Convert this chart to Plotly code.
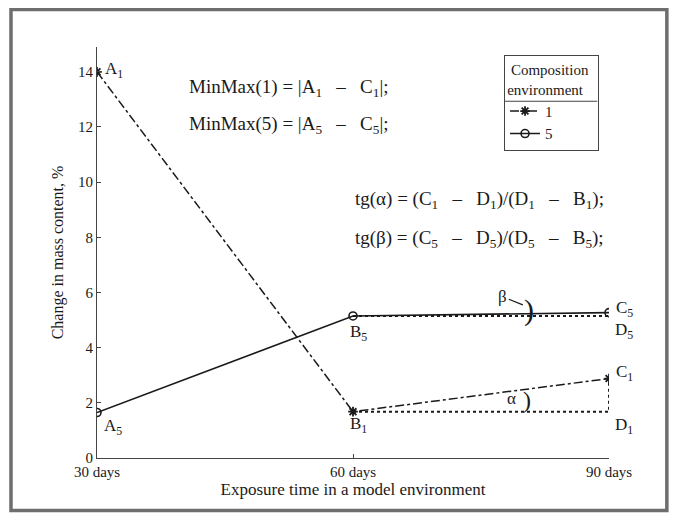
import plotly.graph_objects as go

# ---------------- data
days = [30, 60, 90]
day_labels = ["30 days", "60 days", "90 days"]
env1 = [14.0, 1.68, 2.88]     # composition environment 1
env5 = [1.65, 5.15, 5.27]     # composition environment 5
y_ticks = [0, 2, 4, 6, 8, 10, 12, 14]

# auxiliary construction points
d1_x = [60, 90, 90]
d1_y = [env1[1], env1[1], env1[2]]
d5_x = [60, 90]
d5_y = [env5[1], env5[1]]

font = "Liberation Serif"
ink = "#1a1a1a"

fig = go.Figure()

fig.add_trace(go.Scatter(x=d1_x, y=d1_y, mode="lines",
                         line=dict(color=ink, width=2, dash="dot"),
                         showlegend=False, hoverinfo="skip"))
fig.add_trace(go.Scatter(x=d5_x, y=d5_y, mode="lines",
                         line=dict(color=ink, width=2, dash="dot"),
                         showlegend=False, hoverinfo="skip"))

fig.add_trace(go.Scatter(
    x=days, y=env1, name="1", mode="lines+markers",
    line=dict(color=ink, width=1.5, dash="dashdot"),
    marker=dict(symbol="asterisk-open", size=8, color=ink, line=dict(width=1.8, color=ink))
))
fig.add_trace(go.Scatter(
    x=days, y=env5, name="5", mode="lines+markers",
    line=dict(color=ink, width=1.6),
    marker=dict(symbol="circle-open", size=8, color=ink, line=dict(width=1.6, color=ink))
))

# ---------------- point labels
lab = dict(showarrow=False, font=dict(family=font, size=17, color=ink))
points = [
    (days[0], env1[0], "A<sub>1</sub>", "left", "middle", 6, 2),
    (days[0], env5[0], "A<sub>5</sub>", "left", "top", 5, -2),
    (days[1], env5[1], "B<sub>5</sub>", "left", "top", -5, -4),
    (days[1], env1[1], "B<sub>1</sub>", "left", "top", -5, 0),
    (days[2], env5[2], "C<sub>5</sub>", "left", "middle", 5, 4),
    (days[2], env5[1], "D<sub>5</sub>", "left", "top", 4, -2),
    (days[2], env1[2], "C<sub>1</sub>", "left", "middle", 5, 6),
    (days[2], env1[1], "D<sub>1</sub>", "left", "top", 4, -1),
]
for px, py, txt, xa, ya, xs, ys in points:
    fig.add_annotation(x=px, y=py, text=txt, xanchor=xa, yanchor=ya,
                       xshift=xs, yshift=ys, **lab)

# angles
fig.add_annotation(x=78.6, y=2.15, text="α", **lab)
fig.add_annotation(x=80.4, y=2.1, text=")", showarrow=False,
                   font=dict(family=font, size=24, color=ink))
fig.add_annotation(x=79.9, y=5.55, text="β", ax=-20, ay=-8,
                   showarrow=True, arrowhead=0, arrowwidth=1.2, arrowcolor=ink,
                   font=dict(family=font, size=17, color=ink))
fig.add_annotation(x=80.6, y=5.35, text=")", showarrow=False,
                   font=dict(family=font, size=30, color=ink))

# formulas
formulas = [
    (40.5, 13.42, "MinMax(1) = |A<sub>1</sub>   –   C<sub>1</sub>|;"),
    (40.5, 12.08, "MinMax(5) = |A<sub>5</sub>   –   C<sub>5</sub>|;"),
    (60.0, 9.35, "tg(α) = (C<sub>1</sub>   –   D<sub>1</sub>)/(D<sub>1</sub>   –   B<sub>1</sub>);"),
    (60.0, 7.95, "tg(β) = (C<sub>5</sub>   –   D<sub>5</sub>)/(D<sub>5</sub>   –   B<sub>5</sub>);"),
]
for fx, fy, txt in formulas:
    fig.add_annotation(x=fx, y=fy, text=txt, xanchor="left", yanchor="middle",
                       showarrow=False, font=dict(family=font, size=19, color=ink))

# outer frame and legend title separator
fig.add_shape(type="rect", xref="paper", yref="paper",
              x0=-0.168, x1=1.113, y0=-0.128, y1=1.091,
              line=dict(color="#6e6e6e", width=3.5))
fig.add_shape(type="line", xref="paper", yref="paper",
              x0=0.795, x1=0.977, y0=0.868, y1=0.868,
              line=dict(color="#444", width=1))

axis = dict(showline=True, linecolor="#444", linewidth=1.2, ticks="inside",
            ticklen=4, tickcolor="#444", showgrid=False, zeroline=False,
            tickfont=dict(family=font, size=15, color=ink))

# page body has an 8px margin, so the figure is shrunk by that much
fig.update_layout(
    width=662, height=505,
    margin=dict(l=89, r=61, t=39, b=55),
    paper_bgcolor="white", plot_bgcolor="white",
    font=dict(family=font, color=ink),
    xaxis=dict(axis, range=[30, 90], tickvals=days, ticktext=day_labels,
               title=dict(text="Exposure time in a model environment",
                          font=dict(family=font, size=17, color=ink), standoff=4)),
    yaxis=dict(axis, range=[0, 14.9], tickvals=y_ticks,
               title=dict(text="Change in mass content, %",
                          font=dict(family=font, size=16, color=ink), standoff=10)),
    legend=dict(x=0.795, y=0.981, xanchor="left", yanchor="top",
                bgcolor="rgba(0,0,0,0)", bordercolor="#444", borderwidth=1,
                font=dict(family=font, size=15, color=ink),
                title=dict(text="\u00a0Composition\u00a0\u00a0<br>environment",
                           side="top center",
                           font=dict(family=font, size=15, color=ink)),
                tracegroupgap=0, itemwidth=30),
)

fig.write_html("out.html")
